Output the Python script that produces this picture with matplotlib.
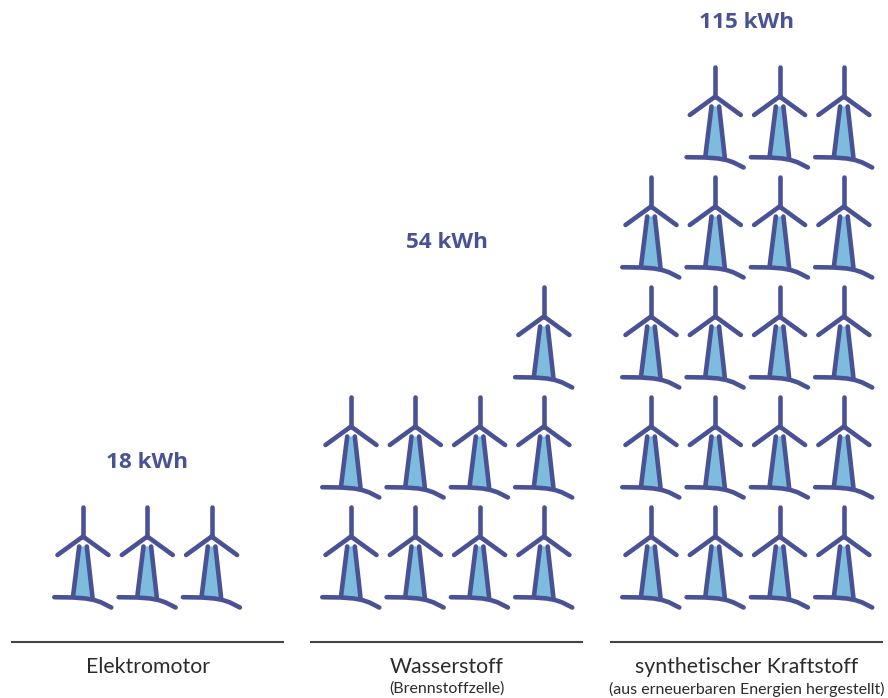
import matplotlib
matplotlib.use('Agg')
import matplotlib.pyplot as plt
from matplotlib.patches import Polygon

categories = ['Elektromotor', 'Wasserstoff', 'synthetischer Kraftstoff']
sublabels = ['', '(Brennstoffzelle)', '(aus erneuerbaren Energien hergestellt)']
values = ['18 kWh', '54 kWh', '115 kWh']
# number of turbines in each row, bottom row first
row_counts = [[3], [4, 4, 1], [4, 4, 4, 4, 3]]

LINE = '#4a5296'
FILL = '#7dbcdc'
TEXT = '#2b2b2b'

# group layout in pixels
group_left = [83, 351, 651]
col_step = 64.3
row_step = 110
bottom_hub = 536.5
rule_x = [(11, 284), (310, 583), (610, 883)]
rule_y = 642
value_x = [147.5, 447, 747]
value_y = [462, 243, 22]
label_x = [147.5, 446.5, 747]


def draw_turbine(ax, x, y):
    lw = 3.3
    ax.add_patch(Polygon([(x - 3.8, y + 10), (x + 3.8, y + 10), (x + 9.5, y + 61), (x - 10, y + 60)],
                         closed=True, facecolor=FILL, edgecolor='none', zorder=2))
    style = dict(color=LINE, lw=lw, solid_capstyle='round', solid_joinstyle='round', zorder=3)
    ax.plot([x, x], [y - 30, y], **style)
    ax.plot([x - 25.5, x, x + 25.5], [y + 18.5, y, y + 18.5], **style)
    ax.plot([x - 3.8, x - 10], [y + 10, y + 60], **style)
    ax.plot([x + 3.8, x + 9.5], [y + 10, y + 61], **style)
    # ground line, flat on the left and bending down to the right
    ax.plot([x - 28.7, x - 10, x + 3, x + 11, x + 18, x + 28.3],
            [y + 60.7, y + 61, y + 62, y + 63.5, y + 65.8, y + 71], **style)


fig = plt.figure(figsize=(8.88, 6.98), dpi=100)
ax = fig.add_axes([0, 0, 1, 1])
ax.set_xlim(0, 888)
ax.set_ylim(698, 0)
ax.axis('off')

for i, rows in enumerate(row_counts):
    n_cols = max(rows)
    for r, n in enumerate(rows):
        # upper rows are right aligned
        for c in range(n_cols - n, n_cols):
            draw_turbine(ax, group_left[i] + c * col_step, bottom_hub - r * row_step)

    ax.plot(rule_x[i], [rule_y, rule_y], color='#444444', lw=1.5, solid_capstyle='butt')
    ax.text(value_x[i], value_y[i], values[i], ha='center', va='center', color=LINE,
            fontsize=16.2, fontweight='bold', family='Open Sans')
    ax.text(label_x[i], 667, categories[i], ha='center', va='center', color=TEXT,
            fontsize=15.3, family='Lato')
    if sublabels[i]:
        ax.text(label_x[i], 689, sublabels[i], ha='center', va='center', color=TEXT,
                fontsize=11.5, family='Lato')

plt.savefig('out.png', dpi=100)
plt.close('all')
